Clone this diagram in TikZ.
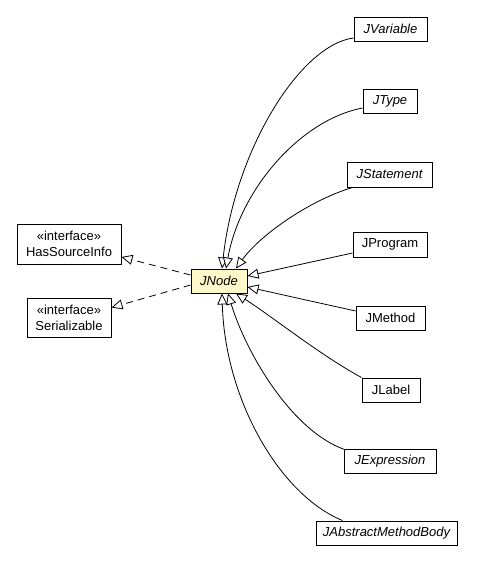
\documentclass[tikz,border=0pt]{standalone}
\usepackage{fontspec}
\setmainfont{Liberation Sans}
\usetikzlibrary{arrows.meta,calc}
\tikzset{
  cls/.style={draw=black, line width=1pt, fill=white, inner sep=0pt, align=center,
    font=\fontsize{13}{16}\selectfont},
  abs/.style={cls, font=\fontsize{13}{16}\selectfont\itshape},
  base/.style={abs, fill=yellow!20!white},
  gen/.style={line width=0.8pt, -{Triangle[length=11pt,width=10pt,fill=white,line width=0.8pt]}},
  real/.style={gen, dash pattern=on 7pt off 5pt},
}
\definecolor{nodeyellow}{HTML}{FFF8C8}
\begin{document}
\begin{tikzpicture}[x=1pt,y=-1pt]
\useasboundingbox (0,0) rectangle (480,563);
% nodes
\node[abs, minimum width=73pt, minimum height=24pt] (JVariable) at (390.5,29) {JVariable};
\node[abs, minimum width=54pt, minimum height=24pt] (JType) at (390,101) {JType};
\node[abs, minimum width=85pt, minimum height=25pt] (JStatement) at (389.5,174.5) {JStatement};
\node[cls, minimum width=74pt, minimum height=25pt] (JProgram) at (390,244.5) {JProgram};
\node[cls, minimum width=69pt, minimum height=24pt] (JMethod) at (390.5,318) {JMethod};
\node[cls, minimum width=58pt, minimum height=24pt] (JLabel) at (391,390) {JLabel};
\node[abs, minimum width=92pt, minimum height=24pt] (JExpression) at (390,461) {JExpression};
\node[abs, minimum width=141pt, minimum height=24pt] (JAbstractMethodBody) at (386.5,533) {JAbstractMethodBody};
\node[base, fill=nodeyellow, minimum width=56pt, minimum height=24pt] (JNode) at (219,281) {JNode};
\node[cls, minimum width=104pt, minimum height=40pt] (HasSourceInfo) at (69,244) {«interface»\\HasSourceInfo};
\node[cls, minimum width=84pt, minimum height=39pt] (Serializable) at (69,317.5) {«interface»\\Serializable};
% generalisation edges
\draw[gen] ($(JVariable.west)+(0,9)$) .. controls (300,45) and (235,150) .. ($(JNode.north)+(3,0)$);
\draw[gen] ($(JType.west)+(0,7)$) .. controls (300,120) and (240,190) .. ($(JNode.north)+(7,0)$);
\draw[gen] ($(JStatement.south west)+(6,0)$) .. controls (310,200) and (260,235) .. ($(JNode.north)+(17,0)$);
\draw[gen] ($(JProgram.west)+(0,8.5)$) -- ($(JNode.east)+(0,-5)$);
\draw[gen] ($(JMethod.west)+(0,-7)$) -- ($(JNode.east)+(0,6)$);
\draw[gen] (JLabel.north west) .. controls (320,355) and (270,315) .. ($(JNode.south)+(17,0)$);
\draw[gen] ($(JExpression.north west)+(1,1)$) .. controls (290,430) and (245,350) .. ($(JNode.south)+(9,0)$);
\draw[gen] ($(JAbstractMethodBody.north west)+(27,0)$) .. controls (280,495) and (225,400) .. ($(JNode.south)+(3,0)$);
% realisation edges
\draw[real] ($(JNode.west)+(0,-6)$) -- ($(HasSourceInfo.east)+(0,13)$);
\draw[real] ($(JNode.west)+(0,4)$) -- ($(Serializable.east)+(0,-10)$);
\end{tikzpicture}
\end{document}
